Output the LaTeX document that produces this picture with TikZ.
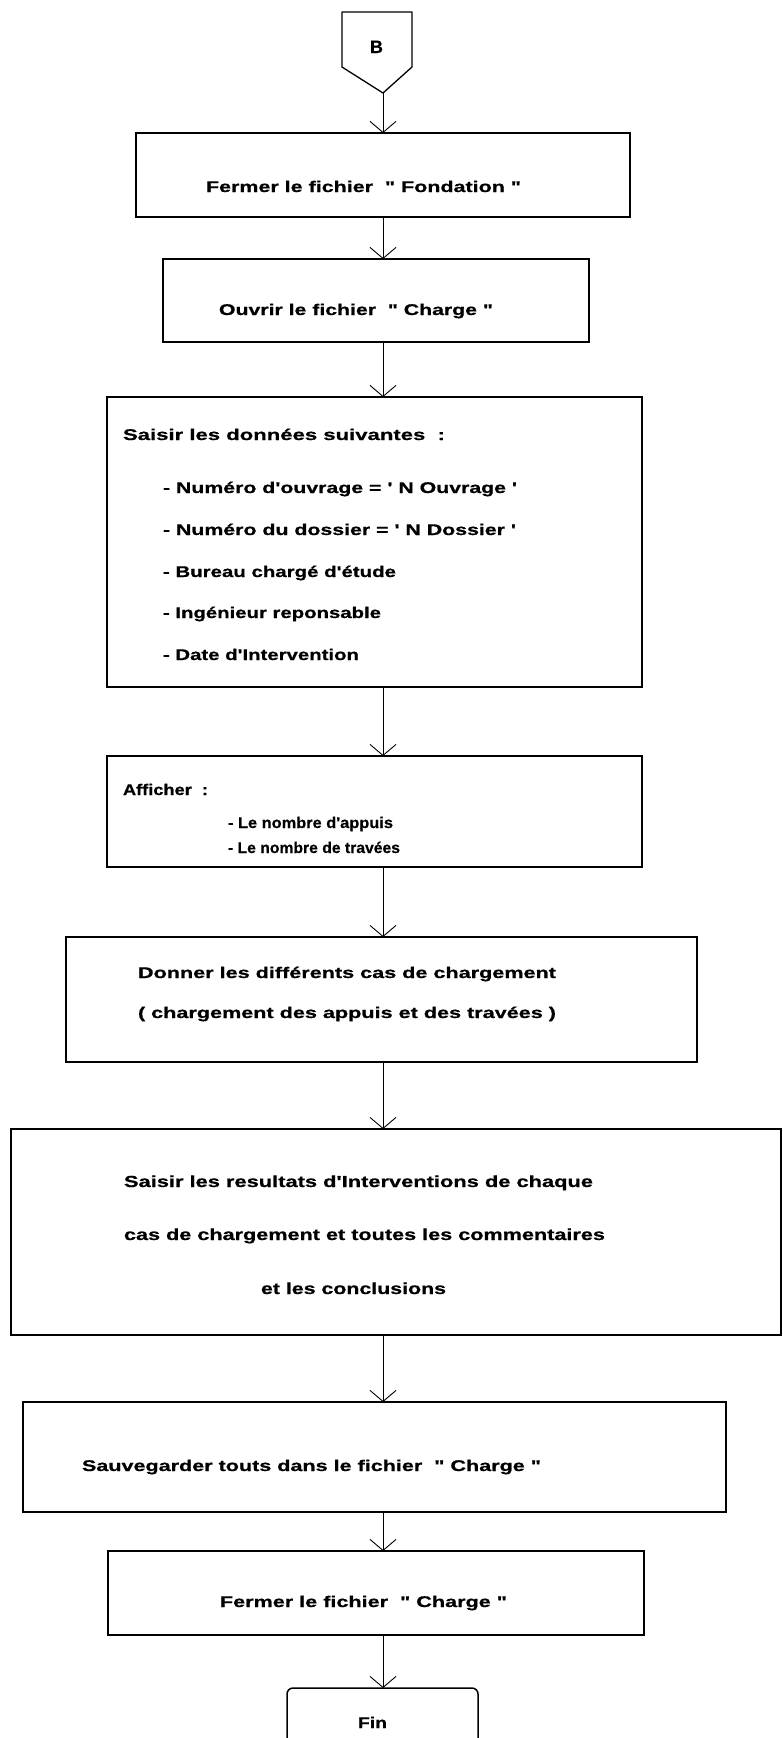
\documentclass[tikz,border=0pt]{standalone}
\usepackage{fontspec}
\usepackage{graphicx}
\setmainfont{Liberation Sans}[Ligatures={TeXOff,CommonOff}, BoldFeatures={FakeBold=0.6}]
\usetikzlibrary{arrows.meta}

% stretch a label horizontally to a given width (in pt), keeping its height
\newcommand{\fitw}[2]{\resizebox{#1pt}{\height}{#2}}

\begin{document}
\begin{tikzpicture}[x=1pt,y=-1pt,
  box/.style={draw, line width=1.5pt, inner sep=0pt, outer sep=0pt},
  lbl/.style={anchor=base west, inner sep=0pt, outer sep=0pt,
              font=\bfseries\fontsize{15.5}{18}\selectfont},
  biglbl/.style={lbl, font=\bfseries\fontsize{16}{18}\selectfont},
  flow/.style={line width=0.8pt, -{Straight Barb[length=11pt,width=26pt,line width=0.9pt]}}]

\useasboundingbox (0,0) rectangle (783,1738);

% off-page connector "B"
\draw[line width=1.3pt, line join=round]
  (342,12) -- (412,12) -- (412,67) -- (383,93) -- (342,67) -- cycle;
\coordinate (Bt) at (383,93);
\node[lbl, font=\bfseries\fontsize{18}{20}\selectfont] (Bl) at (370,53) {B};

% process boxes
\node[box, minimum width=494pt, minimum height=84pt]  (b1) at (383,175) {};
\node[box, minimum width=426pt, minimum height=83pt]  (b2) at (376,300.5) {};
\node[box, minimum width=535pt, minimum height=290pt] (b3) at (374.5,542) {};
\node[box, minimum width=535pt, minimum height=111pt] (b4) at (374.5,811.5) {};
\node[box, minimum width=631pt, minimum height=125pt] (b5) at (381.5,999.5) {};
\node[box, minimum width=770pt, minimum height=206pt] (b6) at (396,1232) {};
\node[box, minimum width=703pt, minimum height=110pt] (b7) at (374.5,1457) {};
\node[box, minimum width=536pt, minimum height=84pt]  (b8) at (376,1593) {};
\node[box, rounded corners=6pt, minimum width=191pt, minimum height=64pt] (fin) at (382.5,1720) {};

% texts
\node[lbl] (t1) at (206,192) {\fitw{315}{Fermer le fichier~~" Fondation "}};
\node[lbl] (t2) at (219,315) {\fitw{274}{Ouvrir le fichier~~" Charge "}};

\node[lbl] (t3) at (123,440) {\fitw{322}{Saisir les données suivantes~~:}};
\node[lbl] (t3a) at (163,493) {\fitw{354}{- Numéro d'ouvrage = ' N Ouvrage '}};
\node[lbl] (t3b) at (163,535) {\fitw{353}{- Numéro du dossier = ' N Dossier '}};
\node[lbl] (t3c) at (163,577) {\fitw{233}{- Bureau chargé d'étude}};
\node[lbl] (t3d) at (163,618) {\fitw{218}{- Ingénieur reponsable}};
\node[lbl] (t3e) at (163,660) {\fitw{196}{- Date d'Intervention}};

\node[lbl] (t4) at (123,795) {\fitw{85}{Afficher~~:}};
\node[lbl] (t4a) at (228,828) {\fitw{165}{- Le nombre d'appuis}};
\node[lbl] (t4b) at (228,853) {\fitw{172}{- Le nombre de travées}};

\node[lbl] (t5a) at (138,978) {\fitw{418}{Donner les différents cas de chargement}};
\node[lbl] (t5b) at (138,1018) {\fitw{418}{( chargement des appuis et des travées )}};

\node[biglbl] (t6a) at (124,1187) {\fitw{469}{Saisir les resultats d'Interventions de chaque}};
\node[biglbl] (t6b) at (124,1240) {\fitw{481}{cas de chargement et toutes les commentaires}};
\node[biglbl] (t6c) at (261,1294) {\fitw{185}{et les conclusions}};

\node[lbl] (t7) at (82,1471) {\fitw{459}{Sauvegarder touts dans le fichier~~" Charge "}};
\node[lbl] (t8) at (220,1607) {\fitw{287}{Fermer le fichier~~" Charge "}};
\node[lbl] (t9) at (358,1728) {\fitw{29}{Fin}};

% connectors along the main axis
\draw[flow] (Bt) -- (b1.north -| Bt);
\draw[flow] (b1.south -| Bt) -- (b2.north -| Bt);
\draw[flow] (b2.south -| Bt) -- (b3.north -| Bt);
\draw[flow] (b3.south -| Bt) -- (b4.north -| Bt);
\draw[flow] (b4.south -| Bt) -- (b5.north -| Bt);
\draw[flow] (b5.south -| Bt) -- (b6.north -| Bt);
\draw[flow] (b6.south -| Bt) -- (b7.north -| Bt);
\draw[flow] (b7.south -| Bt) -- (b8.north -| Bt);
\draw[flow] (b8.south -| Bt) -- (fin.north -| Bt);
\end{tikzpicture}
\end{document}
